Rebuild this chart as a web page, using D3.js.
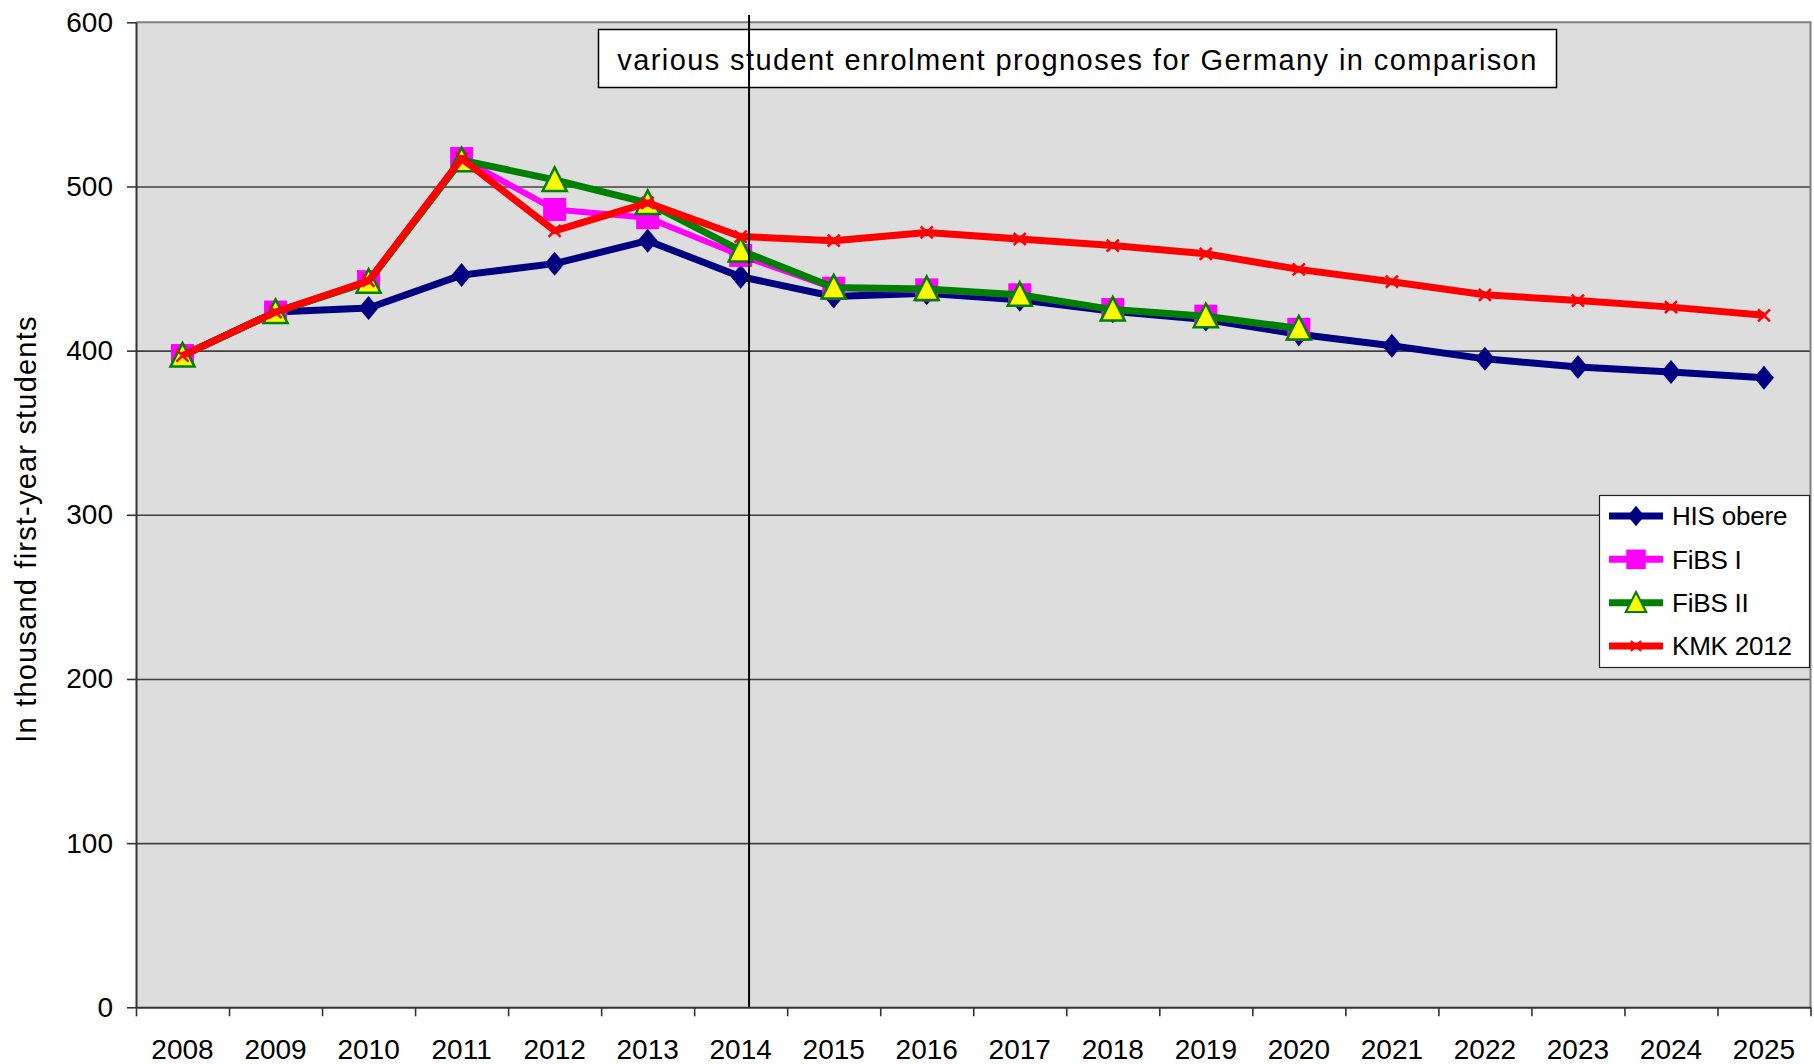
<!DOCTYPE html>
<html>
<head>
<meta charset="utf-8">
<script src="https://cdn.jsdelivr.net/npm/d3@7"></script>
<style>
  body { margin: 0; background: #fff; }
  svg { display: block; font-family: "Liberation Sans", Arial, sans-serif; }
</style>
</head>
<body>
<div class="chart"></div>
<script>
// ===============================
// Data
// ===============================

const years = ["2008", "2009", "2010", "2011", "2012", "2013", "2014", "2015", "2016",
    "2017", "2018", "2019", "2020", "2021", "2022", "2023", "2024", "2025"];

const hisObere = [397, 423.5, 426, 446, 453, 467, 445, 433, 435, 431, 424, 419, 410, 403, 395, 390, 387, 383.5];
const fibsI = [397, 423.5, 442, 517, 486, 481, 458, 438, 437, 434, 425, 421, 413];
const fibsII = [397, 423.5, 442, 516, 504, 490, 461, 438.5, 437.5, 434, 425, 421, 413.5];
const kmk2012 = [397, 423.5, 442.5, 517, 473, 490, 469.5, 467, 472, 468, 464, 459, 449.5, 442, 434, 430.5, 426.5, 421.5];

const yTicks = [0, 100, 200, 300, 400, 500, 600];
const dividerYear = "2014";

const titleText = "various student enrolment prognoses for Germany in comparison";
const yLabel = "In thousand first-year students";

// ===============================
// Chart
// ===============================

const width = 1814;
const height = 1064;
const margin = { top: 22.3, right: 3.5, bottom: 56.7, left: 136 };

const svg = d3.select(".chart")
    .append("svg")
    .attr("width", width)
    .attr("height", height);

const x = d3.scaleBand()
    .domain(years)
    .range([margin.left, width - margin.right])
    .padding(0);

const xEdge = d3.scaleLinear()
    .domain([0, years.length])
    .range([margin.left, width - margin.right]);

const y = d3.scaleLinear()
    .domain([0, 600])
    .range([height - margin.bottom, margin.top]);

const xc = d => x(d) + x.bandwidth() / 2;

// plot background
svg.append("rect")
    .attr("x", margin.left)
    .attr("y", margin.top)
    .attr("width", width - margin.left - margin.right)
    .attr("height", height - margin.top - margin.bottom)
    .attr("fill", "#dddddd");

// grid lines
svg.append("g")
    .attr("transform", `translate(${margin.left},0)`)
    .call(d3.axisLeft(y).tickValues(yTicks.slice(1, -1))
        .tickSize(-(width - margin.left - margin.right)).tickFormat(""))
    .call(g => g.select(".domain").remove())
    .selectAll("line")
    .attr("stroke", "#404040")
    .attr("stroke-width", 1.6);

// plot border top/right
svg.append("path")
    .attr("d", `M${margin.left},${y(600)}H${width - margin.right}V${y(0)}`)
    .attr("fill", "none")
    .attr("stroke", "#808080")
    .attr("stroke-width", 2);

// y axis
const yAxis = svg.append("g")
    .attr("transform", `translate(${margin.left},0)`)
    .call(d3.axisLeft(y).tickValues(yTicks).tickSize(9).tickSizeOuter(0).tickPadding(14));
yAxis.select(".domain").attr("stroke", "#333").attr("stroke-width", 2);
yAxis.selectAll(".tick line").attr("stroke", "#333").attr("stroke-width", 1.6);
yAxis.selectAll("text")
    .style("font-size", "28px")
    .attr("fill", "#000")
    .style("font-family", "'Liberation Sans', Arial, sans-serif");

// x axis: ticks at category edges
const xTickAxis = svg.append("g")
    .attr("transform", `translate(0,${y(0)})`)
    .call(d3.axisBottom(xEdge).tickValues(d3.range(years.length + 1))
        .tickSize(9).tickSizeOuter(0).tickFormat(""));
xTickAxis.select(".domain").attr("stroke", "#333").attr("stroke-width", 2);
xTickAxis.selectAll(".tick line").attr("stroke", "#333").attr("stroke-width", 1.6);

// x axis labels
const xLabelAxis = svg.append("g")
    .attr("transform", `translate(0,${y(0)})`)
    .call(d3.axisBottom(x).tickSize(0).tickPadding(32));
xLabelAxis.select(".domain").remove();
xLabelAxis.selectAll("text")
    .style("font-size", "28px")
    .attr("fill", "#000")
    .style("font-family", "'Liberation Sans', Arial, sans-serif");

// y axis title
svg.append("text")
    .attr("transform", "rotate(-90)")
    .attr("x", -529)
    .attr("y", 36)
    .attr("text-anchor", "middle")
    .style("font-size", "29px")
    .style("letter-spacing", "1.2px")
    .text(yLabel);

// ===============================
// Series
// ===============================

const diamond = "M0,-12L10,0L0,12L-10,0Z";
const square = "M-11.5,-11.5H11.5V11.5H-11.5Z";
const triangle = "M0,-12.5L12,11L-12,11Z";
const cross = "M-6,-6L6,6M6,-6L-6,6";

const series = [
    { name: "HIS obere", values: hisObere, color: "#000080", lw: 7,
      marker: diamond, fill: "#000080", stroke: "none", sw: 0 },
    { name: "FiBS I", values: fibsI, color: "#ff00ff", lw: 6,
      marker: square, fill: "#ff00ff", stroke: "none", sw: 0 },
    { name: "FiBS II", values: fibsII, color: "#008000", lw: 7,
      marker: triangle, fill: "#ffff00", stroke: "#008000", sw: 2.5 },
    { name: "KMK 2012", values: kmk2012, color: "#ff0000", lw: 7,
      marker: cross, fill: "none", stroke: "#ff0000", sw: 2.5 }
];

const line = d3.line()
    .x((d, i) => xc(years[i]))
    .y(d => y(d));

series.forEach(s => {
    const g = svg.append("g");

    g.append("path")
        .datum(s.values)
        .attr("d", line)
        .attr("fill", "none")
        .attr("stroke", s.color)
        .attr("stroke-width", s.lw)
        .attr("stroke-linejoin", "round");

    g.selectAll("path.marker")
        .data(s.values)
        .join("path")
        .attr("class", "marker")
        .attr("transform", (d, i) => `translate(${xc(years[i])},${y(d)})`)
        .attr("d", s.marker)
        .attr("fill", s.fill)
        .attr("stroke", s.stroke)
        .attr("stroke-width", s.sw);
});

// ===============================
// Title box
// ===============================

svg.append("rect")
    .attr("x", 598.5)
    .attr("y", 29.5)
    .attr("width", 958)
    .attr("height", 58)
    .attr("fill", "#fff")
    .attr("stroke", "#000")
    .attr("stroke-width", 1.5);

svg.append("text")
    .attr("x", 1077.5)
    .attr("y", 70)
    .attr("text-anchor", "middle")
    .style("font-size", "29px")
    .style("letter-spacing", "1.4px")
    .text(titleText);

// divider line at 2014
svg.append("line")
    .attr("x1", xc(dividerYear) + x.step() * 0.09)
    .attr("x2", xc(dividerYear) + x.step() * 0.09)
    .attr("y1", 15)
    .attr("y2", y(0))
    .attr("stroke", "#000")
    .attr("stroke-width", 2);

// ===============================
// Legend
// ===============================

const legend = svg.append("g");

legend.append("rect")
    .attr("x", 1599.5)
    .attr("y", 495.5)
    .attr("width", 210)
    .attr("height", 172)
    .attr("fill", "#fff")
    .attr("stroke", "#222")
    .attr("stroke-width", 1.2);

const legendY = d3.scalePoint()
    .domain(series.map(s => s.name))
    .range([516, 646]);

const item = legend.selectAll("g.item")
    .data(series)
    .join("g")
    .attr("class", "item")
    .attr("transform", d => `translate(0,${legendY(d.name)})`);

item.append("line")
    .attr("x1", 1609)
    .attr("x2", 1663)
    .attr("stroke", d => d.color)
    .attr("stroke-width", 7);

item.append("path")
    .attr("transform", "translate(1636,0) scale(0.85)")
    .attr("d", d => d.marker)
    .attr("fill", d => d.fill)
    .attr("stroke", d => d.stroke)
    .attr("stroke-width", d => d.sw);

item.append("text")
    .attr("x", 1672)
    .attr("dy", "0.36em")
    .style("font-size", "26px")
    .style("letter-spacing", "-0.2px")
    .text(d => d.name);
</script>
</body>
</html>
